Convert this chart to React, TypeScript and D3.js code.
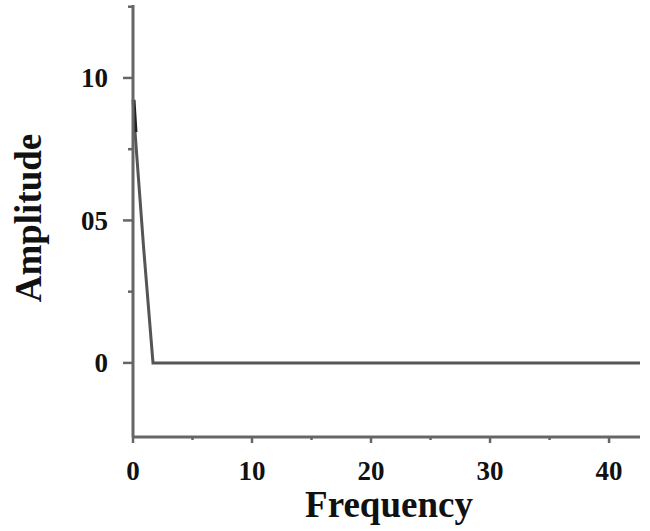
import React from 'react'
import * as d3 from 'd3'

// spectrum
const frequency = [0, 0.17, 0.9, 1.68, 42.6]
const amplitude = [9.23, 8.1, 4.0, 0, 0]

const xTicks = [0, 10, 20, 30, 40]
const xMinorTicks = [5, 15, 25, 35]
const yTicks = [0, 5, 10]
const yTickLabels = ['0', '05', '10']
const yMinorTicks = [2.5, 7.5, 12.5]

export default function App(): React.ReactElement {
  const width = 650
  const height = 531
  const left = 133
  const right = 640
  const top = 5
  const bottom = 437

  const x = d3.scaleLinear().domain([0, 42.6]).range([left, right])
  const y = d3.scaleLinear().domain([-2.6, 12.56]).range([bottom, top])

  const line = d3
    .line<number>()
    .x((_, i) => x(frequency[i]))
    .y((d) => y(d))

  const axisColor = '#666'
  const font = '"Liberation Serif", "Times New Roman", serif'

  return (
    <svg
      width={width}
      height={height}
      style={{ position: 'absolute', left: 0, top: 0, background: '#fff' }}
      fontFamily={font}
      fontWeight="bold"
    >
      <path
        d={line(amplitude) ?? ''}
        fill="none"
        stroke="#555"
        strokeWidth={3}
        strokeLinejoin="miter"
      />
      {/* darker stub at the very top of the peak */}
      <path
        d={line.x((_, i) => x(frequency[i]) + 1)(amplitude.slice(0, 2)) ?? ''}
        fill="none"
        stroke="#222"
        strokeWidth={3}
      />
      {/* axes */}
      <line x1={left} x2={left} y1={top} y2={bottom} stroke={axisColor} strokeWidth={3} />
      <line x1={left} x2={right} y1={bottom} y2={bottom} stroke={axisColor} strokeWidth={3} />

      {xTicks.map((t) => (
        <g key={'x' + t}>
          <line x1={x(t)} x2={x(t)} y1={bottom} y2={bottom + 6} stroke={axisColor} strokeWidth={2.5} />
          <text x={x(t)} y={480} textAnchor="middle" fontSize={27} fill="#111">
            {t}
          </text>
        </g>
      ))}
      {xMinorTicks.map((t) => (
        <line key={'xm' + t} x1={x(t)} x2={x(t)} y1={bottom} y2={bottom + 3} stroke={axisColor} strokeWidth={2.5} />
      ))}

      {yTicks.map((t, i) => (
        <g key={'y' + t}>
          <line x1={left - 10} x2={left} y1={y(t)} y2={y(t)} stroke={axisColor} strokeWidth={2.5} />
          <text x={108} y={y(t)} dy="0.35em" textAnchor="end" fontSize={27} fill="#111">
            {yTickLabels[i]}
          </text>
        </g>
      ))}
      {yMinorTicks.map((t) => (
        <line key={'ym' + t} x1={left - 5} x2={left} y1={y(t)} y2={y(t)} stroke={axisColor} strokeWidth={2.5} />
      ))}

      <text x={389} y={517} textAnchor="middle" fontSize={37} fill="#111">
        Frequency
      </text>
      <text
        transform={`translate(41,218) rotate(-90)`}
        textAnchor="middle"
        fontSize={37}
        fill="#111"
      >
        Amplitude
      </text>
    </svg>
  )
}
